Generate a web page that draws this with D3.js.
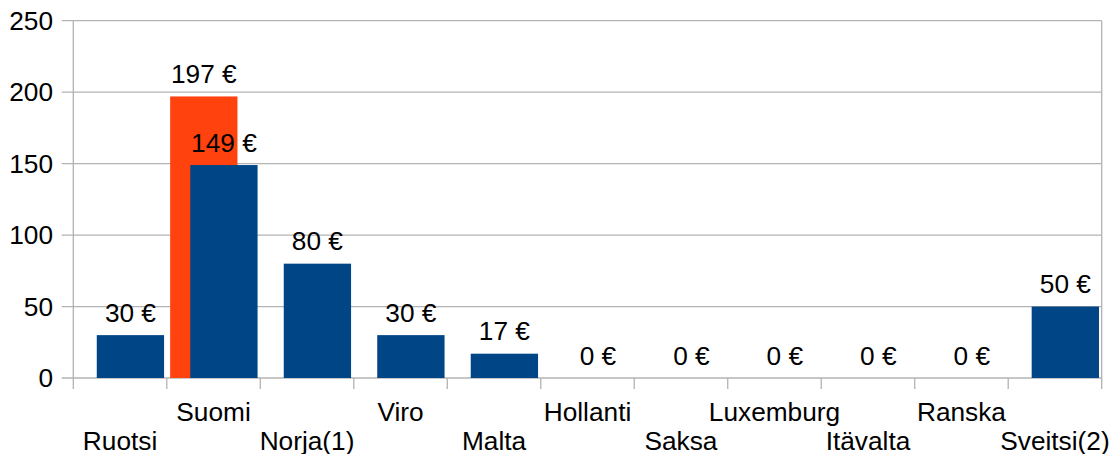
<!DOCTYPE html>
<html>
<head>
<meta charset="utf-8">
<script src="https://cdn.jsdelivr.net/npm/d3@7"></script>
<style>
  html, body { margin: 0; padding: 0; background: #fff; }
  svg { display: block; }
  text { font-family: "Liberation Sans", Arial, sans-serif; font-size: 25px; fill: #000; }
</style>
</head>
<body>
<svg id="chart" width="1111" height="454"></svg>
<script>
const categories = ["Ruotsi", "Suomi", "Norja(1)", "Viro", "Malta", "Hollanti", "Saksa", "Luxemburg", "Itävalta", "Ranska", "Sveitsi(2)"];
const blueValues = [30, 149, 80, 30, 17, 0, 0, 0, 0, 0, 50];
const orangeValues = [null, 197, null, null, null, null, null, null, null, null, null];
const yTicks = [0, 50, 100, 150, 200, 250];

(function () {
const svg = d3.select("#chart");
const plotLeft = 73.3, plotRight = 1101.7, plotTop = 20.7, plotBottom = 378;
const gridColor = "#b3b3b3";
const blue = "#004586", orange = "#ff420e";
const sx = 1.05;

const x = d3.scaleBand().domain(categories).range([plotLeft, plotRight]).padding(0);
const y = d3.scaleLinear().domain([0, 250]).range([plotBottom, plotTop]);
const bw = x.bandwidth();
const barW = bw * 0.72;
const blueOff = bw * 0.251;
const orangeOff = bw * 0.036;

function txt(g, tx, ty, s, anchor) {
  return g.append("text")
    .attr("transform", `translate(${tx},${ty}) scale(${sx},1)`)
    .attr("text-anchor", anchor)
    .text(s);
}

const grid = svg.append("g");
yTicks.forEach(t => {
  grid.append("line")
    .attr("x1", 61.7).attr("x2", plotRight)
    .attr("y1", y(t)).attr("y2", y(t))
    .attr("stroke", gridColor).attr("stroke-width", 1.3);
});
grid.append("line").attr("x1", plotLeft).attr("x2", plotLeft).attr("y1", plotTop).attr("y2", 389)
  .attr("stroke", gridColor).attr("stroke-width", 1.3);
grid.append("line").attr("x1", plotRight).attr("x2", plotRight).attr("y1", plotTop).attr("y2", 389)
  .attr("stroke", gridColor).attr("stroke-width", 1.3);
categories.forEach((c, i) => {
  if (i === 0) return;
  const xx = x(c);
  grid.append("line").attr("x1", xx).attr("x2", xx).attr("y1", plotBottom).attr("y2", 389)
    .attr("stroke", gridColor).attr("stroke-width", 1.3);
});

const yl = svg.append("g");
yTicks.forEach(t => txt(yl, 53, y(t) + 9, String(t), "end"));

const bars = svg.append("g");
categories.forEach((c, i) => {
  const v = orangeValues[i];
  if (v == null) return;
  bars.append("rect")
    .attr("x", x(c) + orangeOff).attr("width", barW)
    .attr("y", y(v)).attr("height", y(0) - y(v))
    .attr("fill", orange);
});
categories.forEach((c, i) => {
  const v = blueValues[i];
  bars.append("rect")
    .attr("x", x(c) + blueOff).attr("width", barW)
    .attr("y", y(v)).attr("height", y(0) - y(v))
    .attr("fill", blue);
});

const dl = svg.append("g");
categories.forEach((c, i) => {
  const v = orangeValues[i];
  if (v == null) return;
  txt(dl, x(c) + orangeOff + barW / 2, y(v) - 13.5, v + " €", "middle");
});
categories.forEach((c, i) => {
  const v = blueValues[i];
  txt(dl, x(c) + blueOff + barW / 2, y(v) - 13.5, v + " €", "middle");
});

const xl = svg.append("g");
categories.forEach((c, i) => {
  const yy = (i % 2 === 0) ? 450 : 420.5;
  txt(xl, x(c) + bw / 2, yy, c, "middle");
});
})();
</script>
</body>
</html>
